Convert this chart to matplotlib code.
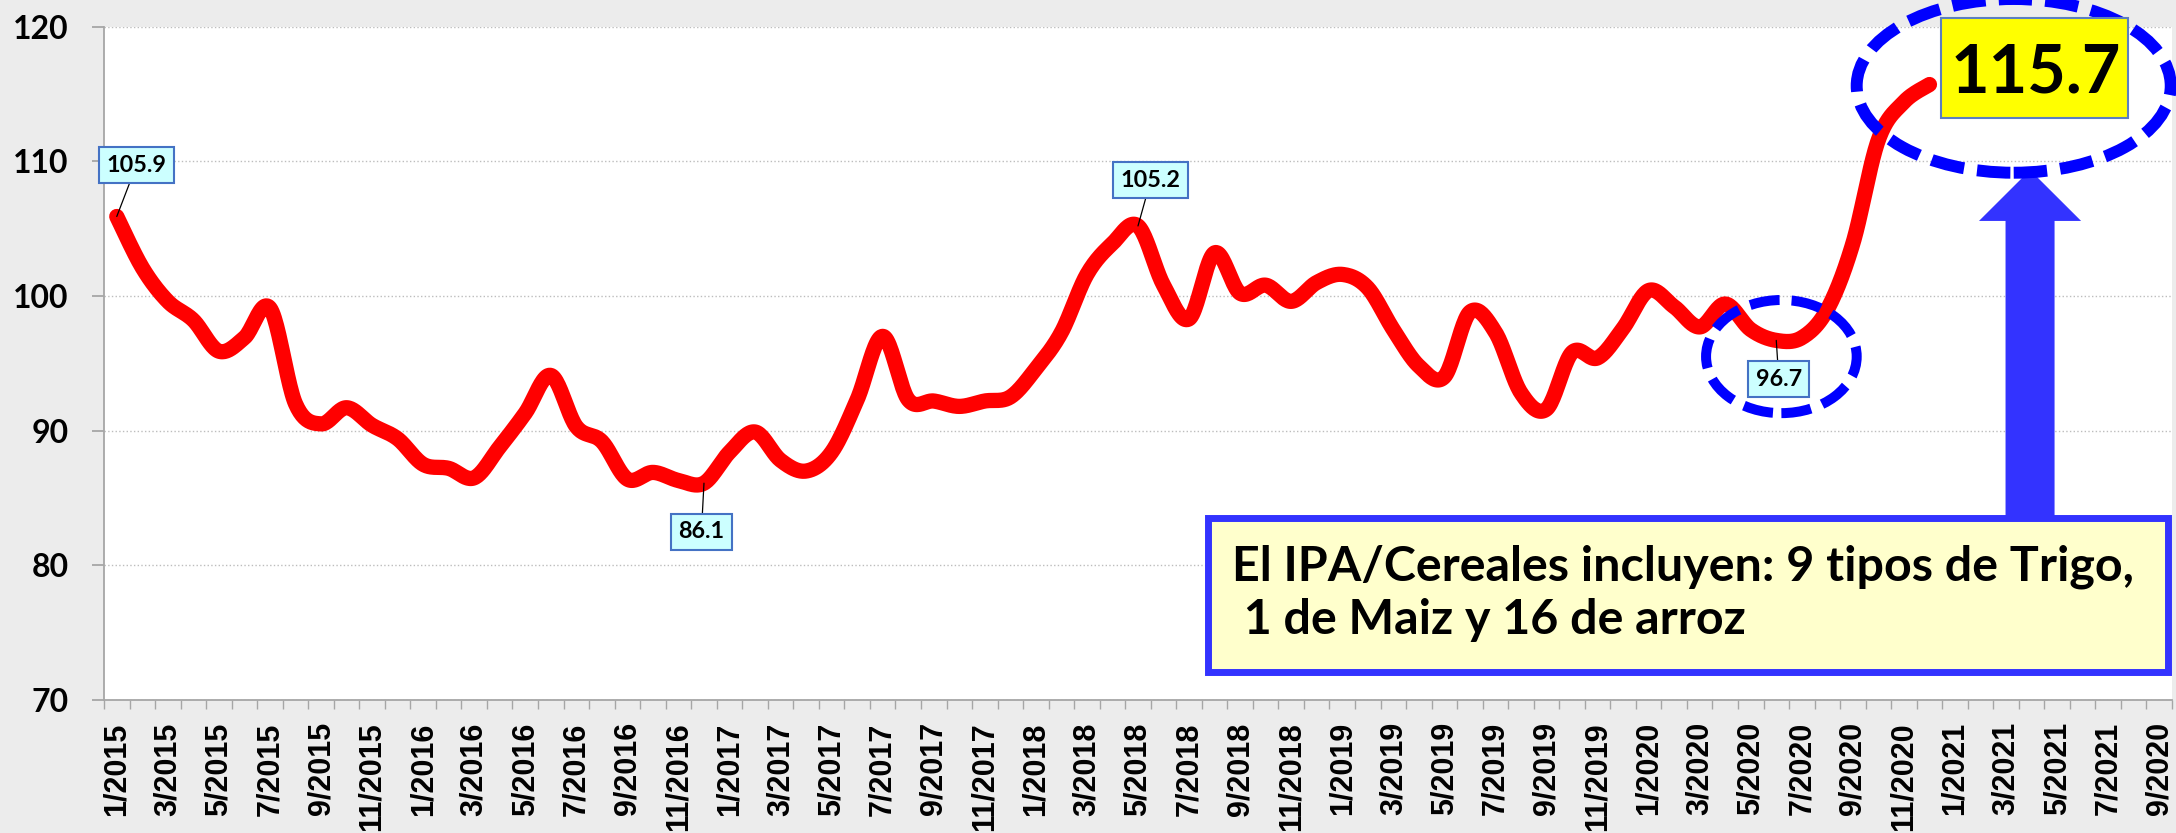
import matplotlib.pyplot as plt
import numpy as np
from matplotlib.patches import Ellipse, Polygon, Rectangle

DPI = 100

# IPA / Cereales, mensual desde 1/2015 hasta 12/2020
ipa = [105.9, 102.1, 99.6, 98.2, 95.9, 96.9, 99.1, 92.0, 90.5, 91.7, 90.4, 89.4,
       87.5, 87.2, 86.5, 88.8, 91.3, 94.1, 90.3, 89.2, 86.4, 86.9, 86.3, 86.1,
       88.4, 89.9, 87.8, 87.0, 88.4, 92.3, 97.0, 92.3, 92.2, 91.8, 92.2, 92.5,
       94.6, 97.3, 101.6, 103.9, 105.2, 100.8, 98.3, 103.2, 100.2, 100.8, 99.6, 101.0,
       101.6, 100.6, 97.5, 94.8, 94.0, 98.8, 97.3, 92.8, 91.6, 95.8, 95.4, 97.6,
       100.4, 99.2, 97.7, 99.4, 97.5, 96.7, 96.9, 99.0, 103.9, 111.6, 114.4, 115.7]

# etiquetas del eje X (cada 2 meses, 81 categorias en total)
x_labels = ['1/2015', '3/2015', '5/2015', '7/2015', '9/2015', '11/2015',
            '1/2016', '3/2016', '5/2016', '7/2016', '9/2016', '11/2016',
            '1/2017', '3/2017', '5/2017', '7/2017', '9/2017', '11/2017',
            '1/2018', '3/2018', '5/2018', '7/2018', '9/2018', '11/2018',
            '1/2019', '3/2019', '5/2019', '7/2019', '9/2019', '11/2019',
            '1/2020', '3/2020', '5/2020', '7/2020', '9/2020', '11/2020',
            '1/2021', '3/2021', '5/2021', '7/2021', '9/2020']
n_cat = 81
y_ticks = [70, 80, 90, 100, 110, 120]

# puntos con etiqueta y posicion de su cuadro
labelled = [0, 23, 40, 65]
label_pos = [(0.77, 109.7), (22.9, 82.5), (40.5, 108.6), (65.1, 93.8)]

note = 'El IPA/Cereales incluyen: 9 tipos de Trigo,\n 1 de Maiz y 16 de arroz'


# curva suavizada (como la linea suavizada de Excel)
def smooth(x, y, k=24):
    x = np.asarray(x, float)
    y = np.asarray(y, float)
    px = np.concatenate([[x[0]], x, [x[-1]]])
    py = np.concatenate([[y[0]], y, [y[-1]]])
    xs, ys = [], []
    t = np.linspace(0, 1, k)
    for j in range(1, len(px) - 2):
        p0 = np.array([px[j - 1], py[j - 1]])
        p1 = np.array([px[j], py[j]])
        p2 = np.array([px[j + 1], py[j + 1]])
        p3 = np.array([px[j + 2], py[j + 2]])
        c1 = p1 + (p2 - p0) / 6.0
        c2 = p2 - (p3 - p1) / 6.0
        b = ((1 - t) ** 3)[:, None] * p1 + (3 * (1 - t) ** 2 * t)[:, None] * c1 \
            + (3 * (1 - t) * t ** 2)[:, None] * c2 + (t ** 3)[:, None] * p2
        xs.extend(b[:, 0])
        ys.extend(b[:, 1])
    return np.array(xs), np.array(ys)


fig = plt.figure(figsize=(21.76, 8.33), dpi=DPI, facecolor='#ECECEC')
ax = fig.add_axes([104 / 2176, 133 / 833, 2068 / 2176, 673.4 / 833])
ax.set_facecolor('white')

x = np.arange(len(ipa))
sx, sy = smooth(x, ipa)
ax.plot(sx, sy, color='#FF0000', lw=11, solid_capstyle='round',
        solid_joinstyle='round', zorder=3)

ax.set_xlim(-0.5, n_cat - 0.5)
ax.set_ylim(70, 120)

# ejes
for s in ['top', 'right']:
    ax.spines[s].set_visible(False)
for s in ['left', 'bottom']:
    ax.spines[s].set_color('#A6A6A6')
    ax.spines[s].set_linewidth(1.3)

ax.set_yticks(y_ticks)
ax.set_yticklabels([str(v) for v in y_ticks], fontsize=23,
                   fontweight='bold', family=['Lato', 'DejaVu Sans'])
ax.tick_params(axis='y', direction='out', length=8.6, width=1.3,
               color='#A6A6A6', pad=17)
ax.grid(axis='y', linestyle=':', color='#BDBDBD', lw=1.0)
ax.set_axisbelow(True)

ax.set_xticks(np.arange(-0.5, n_cat, 1.0))
ax.set_xticklabels([])
ax.tick_params(axis='x', which='major', direction='out', length=6.5,
               width=1.0, color='#A6A6A6')
ax.set_xticks(np.arange(0, n_cat, 2), minor=True)
ax.set_xticklabels(x_labels, minor=True, rotation=90, fontsize=22,
                   fontweight='bold', family=['Liberation Sans', 'DejaVu Sans'],
                   va='top', ha='center')
ax.tick_params(axis='x', which='minor', length=0, pad=16)

# etiquetas de datos
for i, pos in zip(labelled, label_pos):
    ax.annotate(f'{ipa[i]:.1f}', xy=(i, ipa[i]), xytext=pos,
                ha='center', va='center', fontsize=16.8, fontweight='bold',
                family=['Lato', 'DejaVu Sans'], zorder=6,
                bbox=dict(boxstyle='square,pad=0.32', fc='#CCFFFF',
                          ec='#4472C4', lw=1.5),
                arrowprops=dict(arrowstyle='-', color='black', lw=0.9,
                                shrinkA=0, shrinkB=0))

# ultimo valor en cuadro amarillo
ax.add_patch(Rectangle((71.45, 113.21), 7.33, 7.43, fc='#FFFF00', ec='#5B7FC0',
                       lw=1.5, zorder=8, clip_on=False))
ax.text(75.17, 115.13, f'{ipa[-1]:.1f}', ha='center', va='baseline',
        fontsize=48, fontweight='bold', family=['Lato', 'DejaVu Sans'],
        zorder=9, clip_on=False)

# elipses punteadas
ax.add_patch(Ellipse((74.3, 115.6), 12.3, 12.9, fill=False, ec='#0000FF',
                     lw=8.6, ls=(0, (2.8, 1.1)), zorder=7, clip_on=False))
ax.add_patch(Ellipse((65.2, 95.5), 5.9, 8.4, fill=False, ec='#0000FF',
                     lw=7.2, ls=(0, (3.0, 1.2)), zorder=4, clip_on=False))

# flecha
xc, hw, hh = 74.94, 0.96, 2.0
arrow = [(xc - hw, 83.6), (xc - hw, 105.57), (xc - hh, 105.57), (xc, 109.35),
         (xc + hh, 105.57), (xc + hw, 105.57), (xc + hw, 83.6)]
ax.add_patch(Polygon(arrow, closed=True, fc='#3333FF', ec='none', zorder=6,
                     clip_on=False))

# cuadro de texto
ax.add_patch(Rectangle((42.75, 72.05), 37.6, 11.5, fc='#FFFFCC', ec='#3333FF',
                       lw=5, zorder=7, clip_on=False))
ax.text(43.67, 77.95, note, ha='left', va='center', fontsize=34.8,
        fontweight='bold', family=['Lato', 'DejaVu Sans'], linespacing=1.25,
        zorder=8)

plt.savefig('out.png', dpi=DPI, facecolor=fig.get_facecolor())
